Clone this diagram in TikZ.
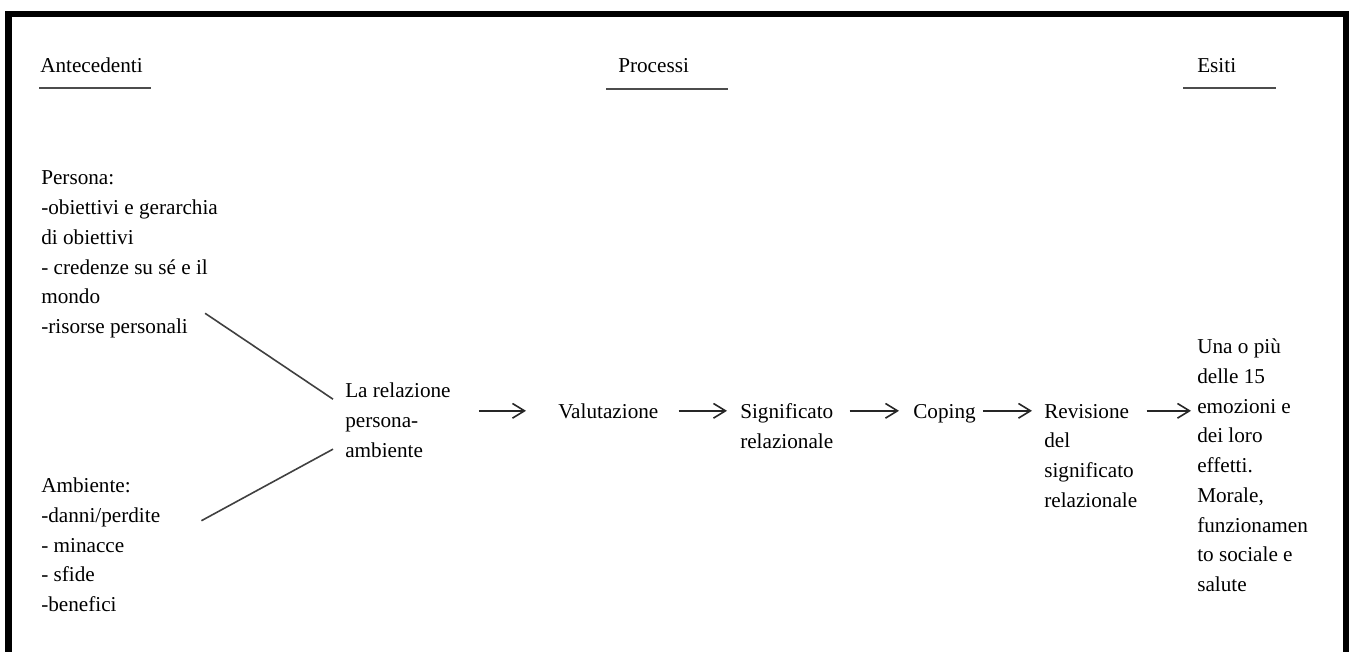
\documentclass[tikz,border=0pt]{standalone}
\usepackage{fontspec}
\setmainfont{Liberation Serif}
\usetikzlibrary{arrows.meta,calc}

\begin{document}
\begin{tikzpicture}[
    x=0.75pt, y=-0.75pt,
    txt/.style={inner sep=0pt, align=left, font=\fontsize{15.9}{22.3}\selectfont, text=black},
    head/.style={txt, anchor=base west},
    blk/.style={txt, anchor=north west},
    uline/.style={draw=black!70, line width=1.5pt},
    link/.style={draw=black!75, line width=1.2pt},
    arrow/.style={-{Straight Barb[length=9pt,width=11pt]}, draw=black!85, line width=1.2pt},
    frame/.style={draw=black, line width=4.8pt}
]
\useasboundingbox (0,0) rectangle (1349,651);
\draw[frame] (8.5,660) -- (8.5,14) -- (1346.5,14) -- (1346.5,660);

% headings
\node[head] (ant) at (40,72) {Antecedenti};
\node[head] (proc) at (618,72) {Processi};
\node[head] (esi) at (1197,72) {Esiti};
\draw[uline] ($(ant.base west)+(-1,16)$) -- ++(112,0);
\draw[uline] ($(proc.base west)+(-12,17)$) -- ++(122,0);
\draw[uline] ($(esi.base west)+(-14,16)$) -- ++(93,0);

% antecedents
\node[blk] (persona) at (41,170.7) {Persona:\\-obiettivi e gerarchia\\di obiettivi\\- credenze su sé e il\\mondo\\-risorse personali};
\node[blk] (ambiente) at (41,477.7) {Ambiente:\\-danni/perdite\\- minacce\\- sfide\\-benefici};

% processes
\node[blk] (rel) at (345,382.7) {La relazione\\persona-\\ambiente};
\node[head] (val) at (558,418) {Valutazione};
\node[blk] (sig) at (740,403.7) {Significato\\relazionale};
\node[head] (cop) at (913,418) {Coping};
\node[blk] (rev) at (1044,403.7) {Revisione\\del\\significato\\relazionale};
\node[blk] (una) at (1197,338.7) {Una o più\\delle 15\\emozioni e\\dei loro\\effetti.\\Morale,\\funzionamen\\to sociale e\\salute};

\draw[link] ($(persona.south east)+(-13,-25)$) -- ($(rel.west)+(-12,-21)$);
\draw[link] ($(ambiente.north east)+(41,43)$) -- ($(rel.west)+(-12,29)$);

\draw[arrow, shorten <=21pt, shorten >=24pt] (rel.east |- val.west) -- (val.west);
\draw[arrow, shorten <=15pt, shorten >=9.75pt] (val.east) -- (sig.west |- val.west);
\draw[arrow, shorten <=12pt, shorten >=10.5pt] (sig.east |- val.west) -- (cop.west |- val.west);
\draw[arrow, shorten <=5.25pt, shorten >=9pt] (cop.east |- val.west) -- (rev.west |- val.west);
\draw[arrow, shorten <=6.75pt, shorten >=4.5pt] (rev.east |- val.west) -- (una.west |- val.west);
\end{tikzpicture}
\end{document}
